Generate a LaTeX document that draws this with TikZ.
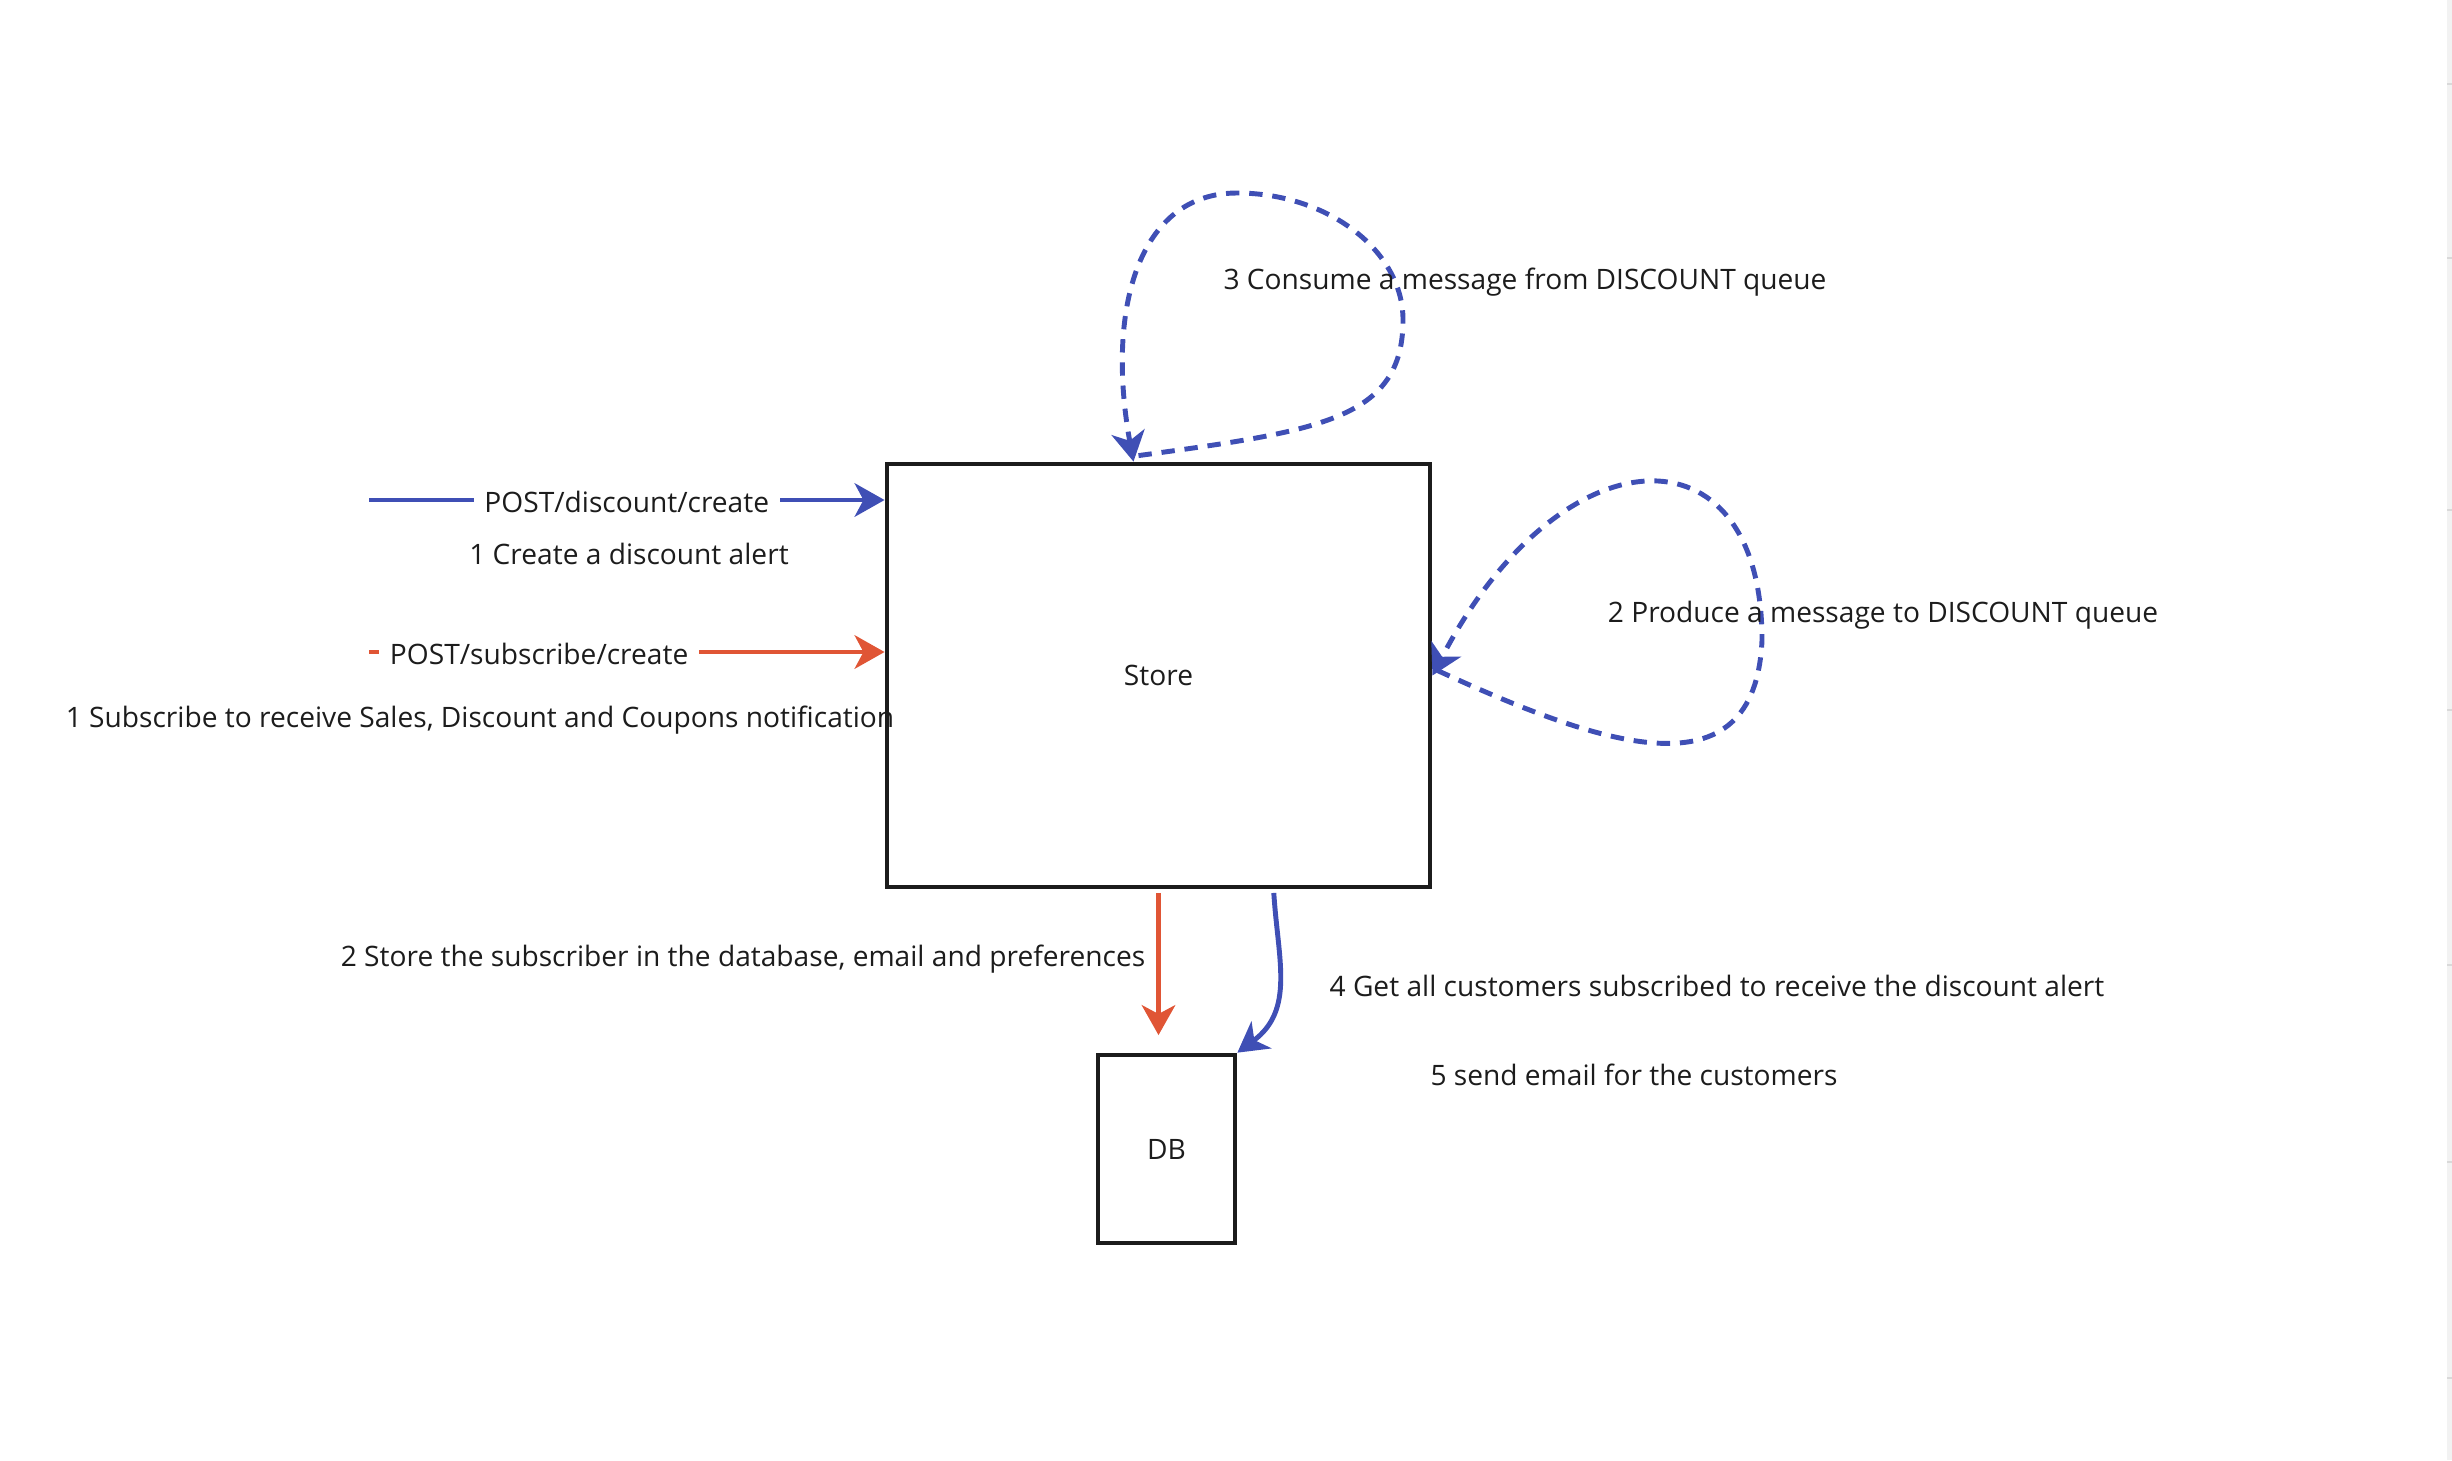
\documentclass[tikz,border=0pt]{standalone}
\usepackage{fontspec}
\setmainfont{Open Sans}
\usetikzlibrary{arrows.meta}
\definecolor{flowblue}{HTML}{3F4FB5}
\definecolor{flowred}{HTML}{E05535}
\definecolor{ink}{HTML}{1C1C1C}
\tikzset{
  box/.style={draw=ink,line width=1.3pt,text=ink,inner sep=0pt},
  lbl/.style={text=ink,inner sep=1pt,yshift=-0.02cm},
  tip/.style={-{Stealth[length=8.5pt,width=9.5pt,inset=2.5pt]}},
  bluearrow/.style={draw=flowblue,line width=1.4pt,tip},
  redarrow/.style={draw=flowred,line width=1.4pt,tip},
  queueloop/.style={bluearrow,dash pattern=on 3.8pt off 2.8pt},
}
\begin{document}
\begin{tikzpicture}[x=0.01cm,y=-0.01cm,font=\fontsize{8}{10}\selectfont]
\useasboundingbox (0,0) rectangle (2452,1460);
% scroll strip at the right edge
\fill[black!5] (2447,0) rectangle (2452,1460);
\foreach \ty in {84,258,510,710,965,1162,1378}
  \draw[black!15,line width=0.3pt] (2447,\ty) -- (2452,\ty);

% services
\path (1158.5,675.5) node[box,minimum width=5.43cm,minimum height=4.23cm] (store) {Store};
\path (1166.5,1149) node[box,minimum width=1.37cm,minimum height=1.88cm] (db) {DB};

% incoming requests
\coordinate (discsrc) at (369,500);
\coordinate (subsrc) at (369,652);
\draw[bluearrow] (discsrc) -- node[lbl,fill=white,inner sep=3pt] (disclbl) {POST/discount/create} (discsrc -| store.west);
\draw[redarrow] (subsrc) -- node[lbl,fill=white,inner sep=3pt,pos=0.33] (sublbl) {POST/subscribe/create} (subsrc -| store.west);
\path (629,552) node[lbl] (step1a) {1 Create a discount alert};
\path (480,718) node[lbl] (step1b) {1 Subscribe to receive Sales, Discount and Coupons notification};

% queue loops
\draw[queueloop] ([xshift=0.05cm,yshift=0.05cm]store.east) .. controls (1600,745) and (1755,800) .. (1762,640)
  .. controls (1762,420) and (1560,430) .. (store.east);
\path (1883,613) node[lbl] (step2) {2 Produce a message to DISCOUNT queue};
\draw[queueloop] ([xshift=-0.2cm,yshift=0.06cm]store.north) .. controls (1318,431) and (1403,420) .. (1403,320)
  .. controls (1403,250) and (1327,193) .. (1237,193)
  .. controls (1137,193) and (1106,312) .. ([xshift=-0.25cm]store.north);
\path (1525,280) node[lbl] (step3) {3 Consume a message from DISCOUNT queue};

% database
\draw[redarrow,shorten <=1pt,shorten >=5pt] (store.south) -- (store.south |- db.north);
\path (743,957) node[lbl] (step2db) {2 Store the subscriber in the database, email and preferences};
\draw[bluearrow,shorten <=1pt] ([xshift=1.15cm]store.south) .. controls (1278,960) and (1295,1010) .. (db.north east);
\path (1717,984) node[lbl] (step4) {4 Get all customers subscribed to receive the discount alert};
\path (1634,1073) node[lbl] (step5) {5 send email for the customers};
\end{tikzpicture}
\end{document}
